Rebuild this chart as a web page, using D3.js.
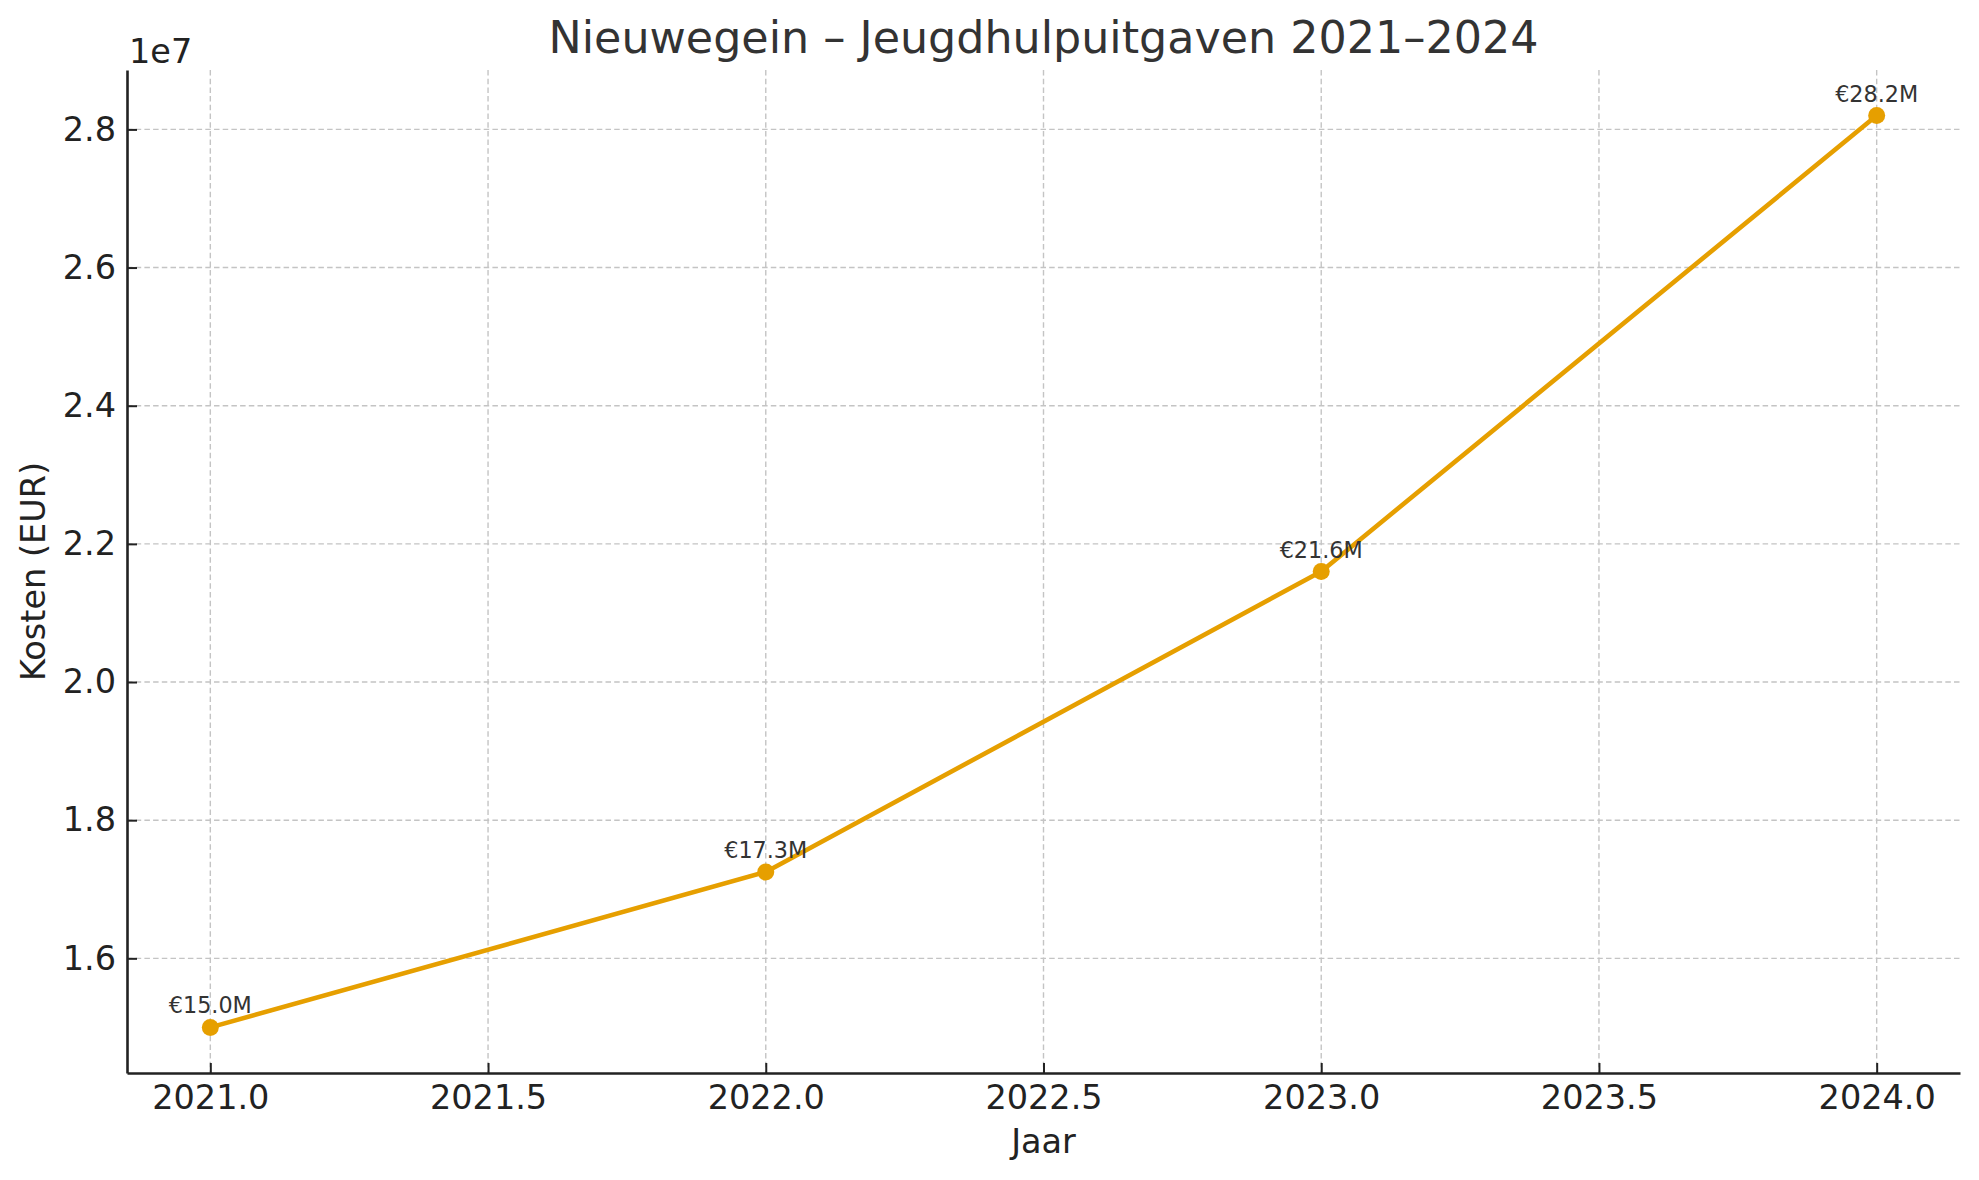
<!DOCTYPE html>
<html>
<head>
<meta charset="utf-8">
<script src="https://cdn.jsdelivr.net/npm/d3@7"></script>
<style>
  body { margin: 0; background: #fff; }
  text { font-family: "DejaVu Sans", sans-serif; }
</style>
</head>
<body>
<div id="chart"></div>
<script>
// data
years = [2021, 2022, 2023, 2024]
costs = [15.0e6, 17.25e6, 21.6e6, 28.2e6]
pointLabels = ["€15.0M", "€17.3M", "€21.6M", "€28.2M"]
xTicks = [2021.0, 2021.5, 2022.0, 2022.5, 2023.0, 2023.5, 2024.0]
yTicks = [1.6e7, 1.8e7, 2.0e7, 2.2e7, 2.4e7, 2.6e7, 2.8e7]
titleText = "Nieuwegein – Jeugdhulpuitgaven 2021–2024"
xLabel = "Jaar"
yLabel = "Kosten (EUR)"
offsetText = "1e7"

margin = {top: 70, right: 19, bottom: 107, left: 127},
W = 1979, H = 1180,
width = W - margin.left - margin.right,
height = H - margin.top - margin.bottom;

svg = d3.select("#chart")
  .append("svg")
  .attr("width", W)
  .attr("height", H)

g = svg.append("g")
  .attr("transform", `translate(${margin.left}, ${margin.top})`);

// matplotlib-style 5% padding
xPad = (d3.max(years) - d3.min(years)) * 0.05
yPad = (d3.max(costs) - d3.min(costs)) * 0.05

x = d3.scaleLinear()
  .domain([d3.min(years) - xPad, d3.max(years) + xPad])
  .range([0, width])

y = d3.scaleLinear()
  .domain([d3.min(costs) - yPad, d3.max(costs) + yPad])
  .range([height, 0])

// grid
g.append("g")
  .selectAll("line")
  .data(xTicks)
  .join("line")
    .attr("x1", d => x(d)).attr("x2", d => x(d))
    .attr("y1", 0).attr("y2", height)
    .attr("stroke", "#c4c4c4")
    .attr("stroke-width", 1.4)
    .attr("stroke-dasharray", "5.5,3.2")

g.append("g")
  .selectAll("line")
  .data(yTicks)
  .join("line")
    .attr("x1", 0).attr("x2", width)
    .attr("y1", d => y(d)).attr("y2", d => y(d))
    .attr("stroke", "#c4c4c4")
    .attr("stroke-width", 1.4)
    .attr("stroke-dasharray", "5.5,3.2")

// axes, ticks pointing inward
xAxis = g.append("g")
  .attr("transform", `translate(0, ${height})`)
  .call(d3.axisBottom(x).tickValues(xTicks).tickFormat(d3.format(".1f"))
    .tickSizeInner(-10).tickSizeOuter(0).tickPadding(12))
xAxis.select(".domain").attr("stroke", "#222").attr("stroke-width", 2.6)
xAxis.selectAll(".tick line").attr("stroke", "#222").attr("stroke-width", 2)
xAxis.selectAll(".tick text")
  .attr("fill", "#222")
  .style("font-size", "33.5px")
  .attr("dy", "0.71em")

yAxis = g.append("g")
  .call(d3.axisLeft(y).tickValues(yTicks).tickFormat(d => d3.format(".1f")(d / 1e7))
    .tickSizeInner(-10).tickSizeOuter(0).tickPadding(11))
yAxis.select(".domain").attr("stroke", "#222").attr("stroke-width", 2.6)
yAxis.selectAll(".tick line").attr("stroke", "#222").attr("stroke-width", 2)
yAxis.selectAll(".tick text")
  .attr("fill", "#222")
  .style("font-size", "33.5px")

// line + markers
line = d3.line()
  .x((d, i) => x(years[i]))
  .y(d => y(d))

g.append("path")
  .datum(costs)
  .attr("d", line)
  .attr("fill", "none")
  .attr("stroke", "#E69F00")
  .attr("stroke-width", 4.6)
  .attr("stroke-linejoin", "round")
  .attr("stroke-linecap", "round")

g.selectAll(".dot")
  .data(costs)
  .join("circle")
    .attr("class", "dot")
    .attr("cx", (d, i) => x(years[i]))
    .attr("cy", d => y(d))
    .attr("r", 8.5)
    .attr("fill", "#E69F00")

// value labels
g.selectAll(".lbl")
  .data(costs)
  .join("text")
    .attr("class", "lbl")
    .attr("x", (d, i) => x(years[i]))
    .attr("y", d => y(d) - 14)
    .attr("text-anchor", "middle")
    .attr("fill", "#333")
    .style("font-size", "22.3px")
    .text((d, i) => pointLabels[i])

// offset text
svg.append("text")
  .attr("x", 129)
  .attr("y", 63)
  .attr("fill", "#222")
  .style("font-size", "33.5px")
  .text(offsetText)

// title and axis labels
svg.append("text")
  .attr("x", margin.left + width / 2)
  .attr("y", 53)
  .attr("text-anchor", "middle")
  .attr("fill", "#333")
  .style("font-size", "44.4px")
  .text(titleText)

svg.append("text")
  .attr("x", margin.left + width / 2)
  .attr("y", 1153)
  .attr("text-anchor", "middle")
  .attr("fill", "#222")
  .style("font-size", "33.5px")
  .text(xLabel)

svg.append("text")
  .attr("transform", `translate(45, ${margin.top + height / 2}) rotate(-90)`)
  .attr("text-anchor", "middle")
  .attr("fill", "#222")
  .style("font-size", "33.5px")
  .text(yLabel)
</script>
</body>
</html>
